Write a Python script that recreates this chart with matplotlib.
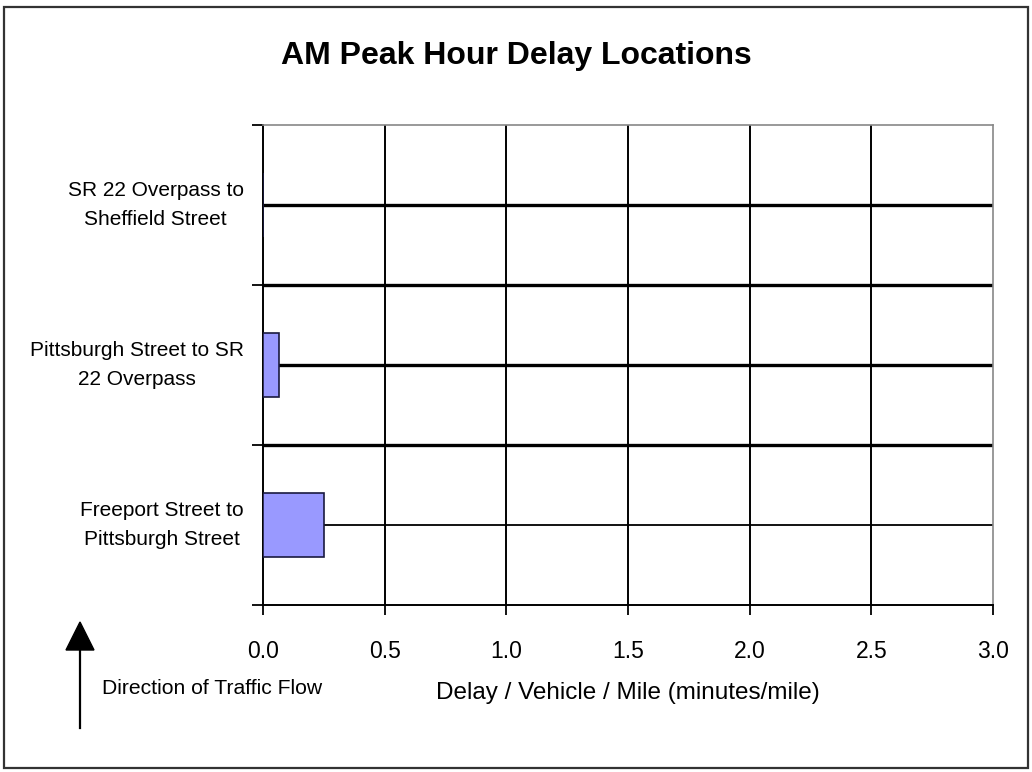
import matplotlib
matplotlib.use("Agg")
import matplotlib.pyplot as plt
from matplotlib.patches import Rectangle, Polygon
from matplotlib.lines import Line2D
import numpy as np

plt.rcParams['font.family'] = ['Liberation Sans', 'DejaVu Sans']

categories = ["Freeport Street to\nPittsburgh Street",
              "Pittsburgh Street to SR\n22 Overpass",
              "SR 22 Overpass to\nSheffield Street"]
delay = [0.25, 0.065, 0.0]
x_ticks = [0.0, 0.5, 1.0, 1.5, 2.0, 2.5, 3.0]
x_tick_labels = ["0.0", "0.5", "1.0", "1.5", "2.0", "2.5", "3.0"]

W, H = 1032, 772
fig = plt.figure(figsize=(W / 100, H / 100), dpi=100)
fig.patch.set_facecolor('white')

ax = fig.add_axes([263 / W, 1 - 605 / H, (993 - 263) / W, (605 - 125) / H])

ypos = np.arange(len(categories))
ax.set_xlim(0, 3.0)
ax.set_ylim(-0.5, len(categories) - 0.5)

# gridlines
for xv in x_ticks[1:-1]:
    ax.axvline(xv, color='black', lw=1.4, zorder=1)
# category lines (thick at boundaries and upper category centers, thin at lowest)
for yv in [0.5, 1.5]:
    ax.axhline(yv, color='black', lw=2.4, zorder=1)
for i, yv in enumerate(ypos):
    ax.axhline(yv, color='black', lw=2.4 if i > 0 else 1.3, zorder=1)

ax.barh(ypos, delay, height=0.4, color='#9999FF', edgecolor='#1a1a40',
        linewidth=1.2, zorder=3)

# ticks
ax.set_xticks(x_ticks)
ax.set_xticklabels(x_tick_labels, fontsize=16.5)
ax.tick_params(axis='x', direction='out', length=7, width=1.3, pad=18, colors='black')

ax.set_yticks([-0.5, 0.5, 1.5, 2.5])
ax.set_yticklabels([])
ax.tick_params(axis='y', which='major', direction='out', length=8, width=1.3)
ax.set_yticks(ypos, minor=True)
ax.set_yticklabels(categories, minor=True, fontsize=15, multialignment='center',
                   linespacing=1.7)
ax.tick_params(axis='y', which='minor', length=0, pad=14)
for lbl in ax.get_yticklabels(minor=True):
    lbl.set_verticalalignment('center')

ax.set_xlabel("Delay / Vehicle / Mile (minutes/mile)", fontsize=17.5, labelpad=14)

for s in ['left', 'bottom']:
    ax.spines[s].set_color('black')
    ax.spines[s].set_linewidth(1.4)
for s in ['top', 'right']:
    ax.spines[s].set_color('#888888')
    ax.spines[s].set_linewidth(1.2)

fig.text(516 / W, 1 - 56 / H, "AM Peak Hour Delay Locations", fontsize=23,
         fontweight='bold', ha='center', va='center')

# direction of traffic arrow (figure pixel coordinates)
def fp(x, y):
    return (x / W, 1 - y / H)
fig.lines.append(Line2D([80 / W, 80 / W], [1 - 728 / H, 1 - 648 / H],
                        transform=fig.transFigure, color='black', lw=1.6))
fig.patches.append(Polygon([fp(80, 622), fp(66, 650), fp(94, 650)], closed=True,
                           transform=fig.transFigure, facecolor='black',
                           edgecolor='black'))
fig.text(102 / W, 1 - 688 / H, "Direction of Traffic Flow", fontsize=15.2,
         ha='left', va='center')

# outer frame
fig.patches.append(Rectangle((4 / W, 1 - 768 / H), (1028 - 4) / W, (768 - 7) / H,
                             transform=fig.transFigure, fill=False,
                             edgecolor='#333333', lw=1.6))

fig.savefig("out.png", dpi=100, facecolor='white')
